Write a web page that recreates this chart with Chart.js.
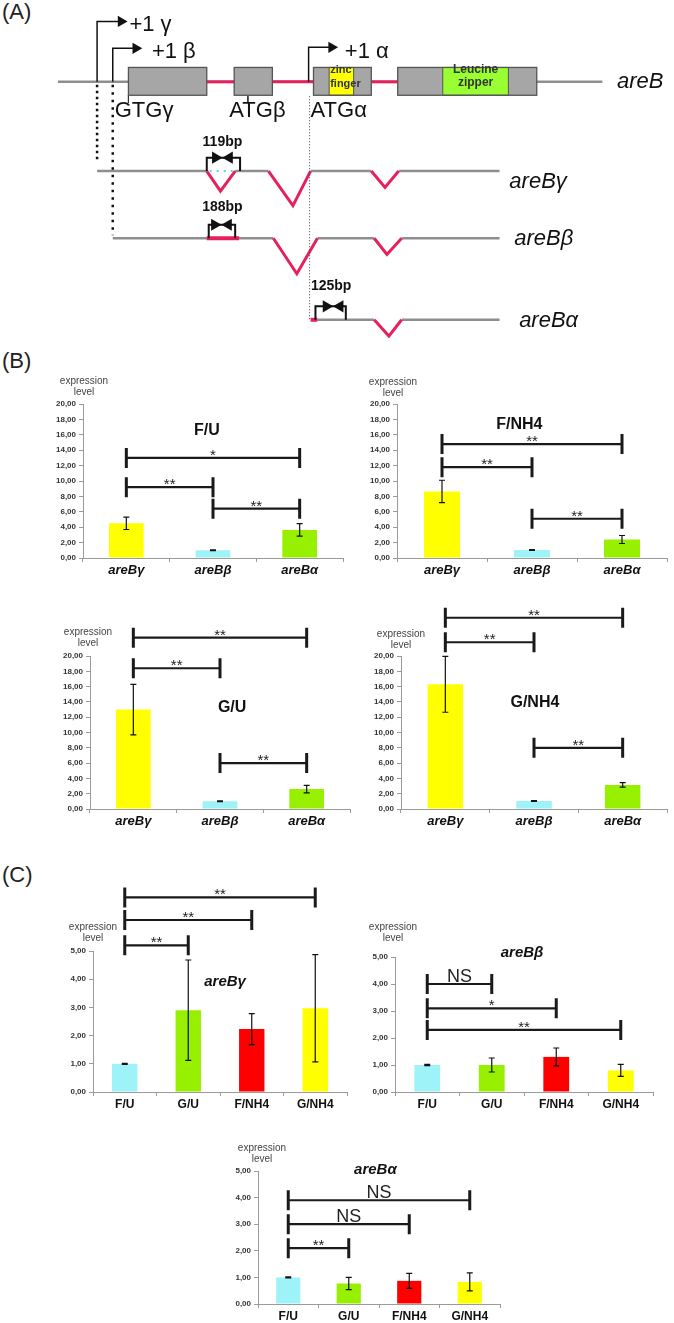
<!DOCTYPE html>
<html>
<head>
<meta charset="utf-8">
<script src="https://cdn.jsdelivr.net/npm/chart.js@4.4.0/dist/chart.umd.min.js"></script>
<style>
    body { margin: 0; background: #fff; width: 674px; height: 1323px; position: relative; overflow: hidden;
           font-family: "Liberation Sans", Arial, sans-serif; }
    canvas { position: absolute; }
    .panel { position: absolute; font-size: 22px; color: #222; line-height: 25px; }
</style>
</head>
<body>
<div class="panel" style="left:2px;top:-1px">(A)</div>
<div class="panel" style="left:2px;top:348px">(B)</div>
<div class="panel" style="left:2px;top:862px">(C)</div>

<canvas id="geneModel" style="left:0;top:0"></canvas>
<canvas id="chartFU"></canvas>
<canvas id="chartFN"></canvas>
<canvas id="chartGU"></canvas>
<canvas id="chartGN"></canvas>
<canvas id="chartGamma"></canvas>
<canvas id="chartBeta"></canvas>
<canvas id="chartAlpha"></canvas>

<script>
// ---------- data (B): isoform level per growth condition ----------
const isoforms = ['areBγ', 'areBβ', 'areBα'];
const fuLevel = [4.5, 1.0, 3.65],  fuErr = [0.8, 0.05, 0.82];
const fnLevel = [8.65, 1.05, 2.4], fnErr = [1.45, 0.05, 0.52];
const guLevel = [13.0, 1.0, 2.6],  guErr = [3.3, 0.05, 0.5];
const gnLevel = [16.3, 1.05, 3.15], gnErr = [3.65, 0.05, 0.3];
// brackets: [from, to, height, mark]
const fuStats = [[0, 2, 13.0, '*'], [0, 1, 9.2, '**'], [1, 2, 6.4, '**']];
const fnStats = [[0, 2, 14.8, '**'], [0, 1, 11.8, '**'], [1, 2, 5.1, '**']];
const guStats = [[0, 2, 22.4, '**'], [0, 1, 18.4, '**'], [1, 2, 6.0, '**']];
const gnStats = [[0, 2, 25.0, '**'], [0, 1, 21.8, '**'], [1, 2, 8.0, '**']];

// ---------- data (C): each isoform across conditions ----------
const media = ['F/U', 'G/U', 'F/NH4', 'G/NH4'];
const gammaLevel = [1.0, 2.9, 2.23, 2.97], gammaErr = [0.02, 1.78, 0.55, 1.9];
const betaLevel  = [1.0, 1.0, 1.3, 0.8],   betaErr  = [0.02, 0.26, 0.33, 0.22];
const alphaLevel = [1.0, 0.77, 0.87, 0.83], alphaErr = [0.02, 0.23, 0.28, 0.34];
const gammaStats = [[0, 3, 6.9, '**'], [0, 2, 6.1, '**'], [0, 1, 5.2, '**']];
const betaStats  = [[0, 1, 4.0, 'NS'], [0, 2, 3.1, '*'], [0, 3, 2.3, '**']];
const alphaStats = [[0, 3, 3.9, 'NS'], [0, 2, 3.0, 'NS'], [0, 1, 2.1, '**']];

const bTickMax = 20, bTickStep = 2;
const cTickMax = 5,  cTickStep = 1;

// ---------- data (A): gene model, in diagram units ----------
const greyLines = [
    [[52, 78], [608, 78]],
    [[92, 171], [204, 171]], [[233, 171], [267, 171]], [[310, 171], [372, 171]], [[400, 171], [503, 171]],
    [[108, 241], [272, 241]], [[317, 241], [375, 241]], [[403, 241], [503, 241]],
    [[317, 326], [375, 326]], [[403, 326], [503, 326]]
];
const redLines = [
    [[204, 78], [232, 78]], [[271, 78], [313, 78]], [[372, 78], [400, 78]],
    [[204, 171], [218, 192], [233, 171]], [[267, 171], [292, 207], [310, 171]], [[372, 171], [386, 188], [400, 171]],
    [[272, 241], [296, 278], [317, 241]], [[375, 241], [388, 258], [403, 241]],
    [[375, 326], [390, 343], [403, 326]]
];
const redExonParts = [[[204, 241], [237, 241]], [[310, 326], [317, 326]]];
const cyanGap = [[[207, 171], [232, 171]]];
const promoters = [
    [[92, 78], [92, 15], [117, 15]],
    [[108, 78], [108, 43], [132, 43]],
    [[308, 78], [308, 42], [332, 42]]
];
const promoterTips = [[123, 15], [138, 43], [338, 42]];
const startDots = [[[92, 81], [92, 162]], [[108, 81], [108, 238]]];
const alphaGuide = [[[309, 93], [309, 326]]];
const startTicks = [[[124, 92], [124, 100]], [[246, 92], [246, 100]]];
const bpBrackets = [
    [[204, 171], [204, 157], [238, 157], [238, 171]],
    [[206, 241], [206, 227], [233, 227], [233, 241]],
    [[315, 326], [315, 312], [346, 312], [346, 326]]
];
const bowties = [[220, 157], [219, 227], [333, 312]];
const exons = [[124, 204], [232, 271], [313, 372], [399, 541]];
const exonRow = [63, 92];
const domains = [[329, 354], [445, 512]];
const siteLabels = [['+1 γ', 125, 25], ['+1 β', 148, 53], ['+1 α', 345, 53],
                    ['GTGγ', 110, 115], ['ATGβ', 227, 115], ['ATGα', 310, 115]];
const geneNames = [['areB', 623, 84], ['areBγ', 513, 189], ['areBβ', 518, 248], ['areBα', 523, 334]];
const bpLabels = [['119bp', 220, 145], ['188bp', 220, 213], ['125bp', 331, 295]];

const FONT = '"Liberation Sans", Arial, sans-serif';
Chart.defaults.font.family = FONT;
Chart.defaults.animation = false;
Chart.defaults.plugins.legend.display = false;
Chart.defaults.plugins.tooltip.enabled = false;

const YELLOW = '#ffff00', CYAN = '#9ef3f8', GREEN = '#97f000', RED = '#ff0000';
const PINK = '#e5205d', GREY = '#8e8e8e';

// ---------- panel A ----------
function poly(pts, color, width, dash, order) {
    return {
        data: pts.map(p => ({ x: p[0], y: p[1] })),
        showLine: true, borderColor: color, borderWidth: width, borderDash: dash || [],
        pointRadius: 0, borderCapStyle: 'butt', borderJoinStyle: 'miter', order: order
    };
}
function heads(pts, rot, r) {
    return {
        data: pts.map(p => ({ x: p[0], y: p[1] })),
        showLine: false, pointStyle: 'triangle', rotation: rot, pointRadius: r,
        backgroundColor: '#111', borderColor: '#111', borderWidth: 0, order: 0
    };
}

let geneSets = [];
greyLines.forEach(l => geneSets.push(poly(l, GREY, 2.5, null, 4)));
redLines.forEach(l => geneSets.push(poly(l, PINK, 3, null, 3)));
redExonParts.forEach(l => geneSets.push(poly(l, PINK, 4, null, 3)));
cyanGap.forEach(l => geneSets.push(poly(l, '#5ad6e6', 2, [2, 5], 2)));
promoters.forEach(l => geneSets.push(poly(l, '#111', 1.5, null, 1)));
startDots.forEach((l, i) => geneSets.push(poly(l, '#111', 2.5, i ? [2.5, 5] : [2.5, 3.5], 1)));
alphaGuide.forEach(l => geneSets.push(poly(l, '#444', 1, [1, 2], 1)));
startTicks.forEach(l => geneSets.push(poly(l, '#333', 1, null, 1)));
bpBrackets.forEach(l => geneSets.push(poly(l, '#111', 2, null, 1)));
geneSets.push(heads(promoterTips.map(p => [p[0] - 6.5, p[1]]), 90, 6.5));
geneSets.push(heads(bowties.map(p => [p[0] - 7, p[1]]), 90, 7));
geneSets.push(heads(bowties.map(p => [p[0] + 7, p[1]]), -90, 7));

const geneBoxes = {
    id: 'geneBoxes',
    afterDatasetsDraw(chart) {
        const ctx = chart.ctx, xs = chart.scales.x, ys = chart.scales.y;
        const t = ys.getPixelForValue(exonRow[0]), b = ys.getPixelForValue(exonRow[1]);
        ctx.save();
        exons.forEach(e => {
            const l = xs.getPixelForValue(e[0]), r = xs.getPixelForValue(e[1]);
            ctx.fillStyle = '#a6a6a6';
            ctx.fillRect(l, t, r - l, b - t);
        });
        [YELLOW, '#99ff33'].forEach((c, i) => {
            const l = xs.getPixelForValue(domains[i][0]), r = xs.getPixelForValue(domains[i][1]);
            ctx.fillStyle = c;
            ctx.fillRect(l, t, r - l, b - t);
            ctx.strokeStyle = '#555';
            ctx.lineWidth = 1;
            ctx.strokeRect(l, t, r - l, b - t);
        });
        ctx.strokeStyle = '#555';
        ctx.lineWidth = 1.3;
        exons.forEach(e => {
            const l = xs.getPixelForValue(e[0]), r = xs.getPixelForValue(e[1]);
            ctx.strokeRect(l, t, r - l, b - t);
        });

        // domain names
        ctx.fillStyle = '#333';
        ctx.font = 'bold 11px ' + FONT;
        ctx.textAlign = 'left';
        ctx.fillText('zinc', xs.getPixelForValue(domains[0][0]) + 1, 73);
        ctx.fillText('finger', xs.getPixelForValue(domains[0][0]) + 1, 87);
        ctx.font = 'bold 12px ' + FONT;
        ctx.textAlign = 'center';
        const mid = (xs.getPixelForValue(domains[1][0]) + xs.getPixelForValue(domains[1][1])) / 2;
        ctx.fillText('Leucine', mid, 73);
        ctx.fillText('zipper', mid, 86);

        ctx.fillStyle = '#111';
        ctx.textAlign = 'left';
        ctx.font = '22px ' + FONT;
        siteLabels.forEach(s => ctx.fillText(s[0], xs.getPixelForValue(s[1]), ys.getPixelForValue(s[2])));
        ctx.font = 'italic 22px ' + FONT;
        geneNames.forEach(s => ctx.fillText(s[0], xs.getPixelForValue(s[1]), ys.getPixelForValue(s[2])));
        ctx.font = 'bold 14px ' + FONT;
        ctx.textAlign = 'center';
        bpLabels.forEach(s => ctx.fillText(s[0], xs.getPixelForValue(s[1]), ys.getPixelForValue(s[2])));
        ctx.restore();
    }
};

const gm = document.getElementById('geneModel');
gm.width = 674;
gm.height = 345;
new Chart(gm, {
    type: 'scatter',
    data: { datasets: geneSets },
    options: {
        responsive: false,
        layout: { padding: 0 },
        scales: {
            x: { type: 'linear', min: 0, max: 674, display: false },
            y: { type: 'linear', min: 0, max: 345, reverse: true, display: false }
        }
    },
    plugins: [geneBoxes]
});

// ---------- panels B and C ----------
function barChart(id, spec) {
    const yW = 50, xH = 22;
    const b = spec.box;
    const cv = document.getElementById(id);
    cv.width = yW + (b.right - b.left) + spec.padRight;
    cv.height = spec.padTop + (b.bottom - b.top) + xH;
    cv.style.left = (b.left - yW) + 'px';
    cv.style.top = (b.top - spec.padTop) + 'px';

    const extras = {
        id: 'extras',
        afterDatasetsDraw(chart) {
            const ctx = chart.ctx, xs = chart.scales.x, ys = chart.scales.y;
            const meta = chart.getDatasetMeta(0);
            ctx.save();
            // error bars
            ctx.strokeStyle = '#111';
            ctx.lineWidth = 1.2;
            spec.errors.forEach((e, i) => {
                const cx = meta.data[i].x;
                const t = ys.getPixelForValue(spec.values[i] + e);
                const bt = ys.getPixelForValue(spec.values[i] - e);
                ctx.beginPath();
                ctx.moveTo(cx, t); ctx.lineTo(cx, bt);
                ctx.moveTo(cx - 3, t); ctx.lineTo(cx + 3, t);
                ctx.moveTo(cx - 3, bt); ctx.lineTo(cx + 3, bt);
                ctx.stroke();
            });
            // significance brackets
            ctx.strokeStyle = '#1a1a1a';
            ctx.fillStyle = '#222';
            ctx.textAlign = 'center';
            spec.stats.forEach(s => {
                const x1 = xs.getPixelForValue(s[0]), x2 = xs.getPixelForValue(s[1]);
                const y = ys.getPixelForValue(s[2]);
                ctx.lineWidth = 2.2;
                ctx.beginPath();
                ctx.moveTo(x1, y); ctx.lineTo(x2, y);
                ctx.stroke();
                ctx.lineWidth = 3;
                ctx.beginPath();
                ctx.moveTo(x1, y - 10); ctx.lineTo(x1, y + 10);
                ctx.moveTo(x2, y - 10); ctx.lineTo(x2, y + 10);
                ctx.stroke();
                if (s[3] === 'NS') {
                    ctx.font = '18px ' + FONT;
                    ctx.fillText(s[3], (x1 + x2) / 2, y - 2);
                } else {
                    ctx.font = '15px ' + FONT;
                    ctx.fillText(s[3], (x1 + x2) / 2, y + 2);
                }
            });
            // chart title
            ctx.fillStyle = '#111';
            ctx.font = spec.titleFont;
            ctx.textBaseline = 'middle';
            ctx.fillText(spec.title, xs.getPixelForValue(spec.titleAt[0]), ys.getPixelForValue(spec.titleAt[1]));
            // axis caption
            ctx.fillStyle = '#444';
            ctx.font = '10px ' + FONT;
            const ax = chart.chartArea.left, top = chart.chartArea.top;
            ctx.fillText('expression', ax + spec.capDx, top + spec.capDy);
            ctx.fillText('level', ax + spec.capDx, top + spec.capDy + 11);
            ctx.restore();
        }
    };

    new Chart(cv, {
        type: 'bar',
        data: {
            labels: spec.labels,
            datasets: [{
                data: spec.values,
                backgroundColor: spec.colors,
                barPercentage: 0.4,
                categoryPercentage: 1
            }]
        },
        options: {
            responsive: false,
            layout: { padding: { top: spec.padTop, right: spec.padRight, left: 0, bottom: 0 } },
            scales: {
                x: {
                    grid: { drawOnChartArea: false, offset: true, tickLength: 4, color: '#9a9a9a' },
                    border: { color: '#9a9a9a' },
                    ticks: { color: '#111', font: spec.catFont, padding: 1 },
                    afterFit: s => { s.height = xH; }
                },
                y: {
                    min: 0, max: spec.yMax,
                    grid: { drawOnChartArea: false, tickLength: 4, color: '#9a9a9a' },
                    border: { color: '#9a9a9a' },
                    ticks: {
                        stepSize: spec.yStep, color: '#333', padding: 3,
                        font: { size: 8, weight: 'bold' },
                        callback: v => v.toFixed(2).replace('.', ',')
                    },
                    afterFit: s => { s.width = yW; }
                }
            }
        },
        plugins: [extras]
    });
}

const isoColors = [YELLOW, CYAN, GREEN];
const mediaColors = [CYAN, GREEN, RED, YELLOW];
const bCat = { size: 13, weight: 'bold', style: 'italic' };
const cCat = { size: 12, weight: 'bold' };
const bTitle = 'bold 16px ' + FONT;
const cTitle = 'italic bold 15px ' + FONT;

barChart('chartFU', {
    box: { left: 83, top: 404, right: 343, bottom: 558 }, padTop: 40, padRight: 6,
    labels: isoforms, values: fuLevel, errors: fuErr, colors: isoColors, stats: fuStats,
    yMax: bTickMax, yStep: bTickStep, catFont: bCat,
    title: 'F/U', titleFont: bTitle, titleAt: [0.93, 16.5], capDx: 1, capDy: -23
});
barChart('chartFN', {
    box: { left: 397, top: 404, right: 667, bottom: 558 }, padTop: 40, padRight: 6,
    labels: isoforms, values: fnLevel, errors: fnErr, colors: isoColors, stats: fnStats,
    yMax: bTickMax, yStep: bTickStep, catFont: bCat,
    title: 'F/NH4', titleFont: bTitle, titleAt: [0.86, 17.3], capDx: -4, capDy: -22
});
barChart('chartGU', {
    box: { left: 90, top: 656, right: 350, bottom: 809 }, padTop: 45, padRight: 6,
    labels: isoforms, values: guLevel, errors: guErr, colors: isoColors, stats: guStats,
    yMax: bTickMax, yStep: bTickStep, catFont: bCat,
    title: 'G/U', titleFont: bTitle, titleAt: [1.14, 13.3], capDx: -2, capDy: -24
});
barChart('chartGN', {
    box: { left: 401, top: 656, right: 667, bottom: 809 }, padTop: 60, padRight: 6,
    labels: isoforms, values: gnLevel, errors: gnErr, colors: isoColors, stats: gnStats,
    yMax: bTickMax, yStep: bTickStep, catFont: bCat,
    title: 'G/NH4', titleFont: bTitle, titleAt: [1.01, 13.9], capDx: 0, capDy: -22
});
barChart('chartGamma', {
    box: { left: 93, top: 951, right: 347, bottom: 1092 }, padTop: 75, padRight: 6,
    labels: media, values: gammaLevel, errors: gammaErr, colors: mediaColors, stats: gammaStats,
    yMax: cTickMax, yStep: cTickStep, catFont: cCat,
    title: 'areBγ', titleFont: cTitle, titleAt: [1.58, 3.9], capDx: 0, capDy: -24
});
barChart('chartBeta', {
    box: { left: 395, top: 957, right: 653, bottom: 1092 }, padTop: 40, padRight: 6,
    labels: media, values: betaLevel, errors: betaErr, colors: mediaColors, stats: betaStats,
    yMax: cTickMax, yStep: cTickStep, catFont: cCat,
    title: 'areBβ', titleFont: cTitle, titleAt: [1.47, 5.15], capDx: -2, capDy: -30
});
barChart('chartAlpha', {
    box: { left: 258, top: 1171, right: 500, bottom: 1304 }, padTop: 40, padRight: 6,
    labels: media, values: alphaLevel, errors: alphaErr, colors: mediaColors, stats: alphaStats,
    yMax: cTickMax, yStep: cTickStep, catFont: cCat,
    title: 'areBα', titleFont: cTitle, titleAt: [1.44, 5.04], capDx: 4, capDy: -23
});
</script>
</body>
</html>
